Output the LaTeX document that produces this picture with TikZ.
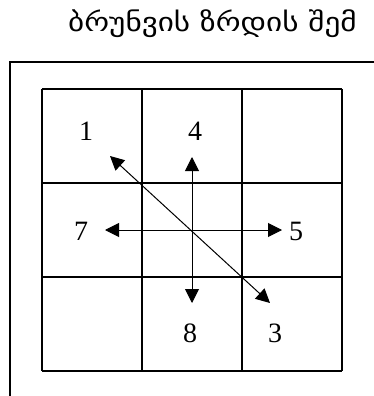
\documentclass[tikz,border=0pt]{standalone}
\usepackage{fontspec}
\setmainfont{Liberation Serif}
\newfontfamily\geofont{DejaVu Sans}
\usetikzlibrary{arrows.meta}

\begin{document}
\begin{tikzpicture}[
  x=1pt, y=-1pt,
  cell/.style={minimum width=100pt, minimum height=94pt, inner sep=0pt},
  grd/.style={line width=2pt},
  num/.style={font=\fontsize{28}{30}\selectfont, inner sep=0pt},
  ar/.style={{Triangle[length=14pt, width=14pt]}-{Triangle[length=14pt, width=14pt]}, line width=1pt},
  frm/.style={line width=1.2pt}]
\useasboundingbox (0,0) rectangle (374,396);
\clip (0,0) rectangle (374,396);
% ---- title, cut at the right edge
\node[anchor=base west, inner sep=0pt, xscale=1.2, font=\geofont\fontsize{26}{28}\selectfont] (title) at (68,32) {ბრუნვის ზრდის შემ};
% ---- outer frame (top and left sides only)
\coordinate (fa) at (10,400);
\coordinate (fb) at (10,62);
\coordinate (fc) at (380,62);
\draw[frm] (fa) -- (fb) -- (fc);
% ---- 3x3 grid of cells
\foreach \r in {1,2,3}
  \foreach \c in {1,2,3}
    \node[cell] (c-\r-\c) at ({42+100*(\c-0.5)},{89+94*(\r-0.5)}) {};
\foreach \r in {1,2,3}{
  \draw[grd] (c-\r-1.north west) -- (c-\r-3.north east);
  \draw[grd] (c-1-\r.north west) -- (c-3-\r.south west);}
\draw[grd] (c-3-1.south west) -- (c-3-3.south east);
\draw[grd] (c-1-3.north east) -- (c-3-3.south east);
% ---- labels
\node[num] (l1) at (86,131) {1};
\node[num] (l4) at (195,131) {4};
\node[num] (l7) at (81,231) {7};
\node[num] (l5) at (296,231) {5};
\node[num] (l8) at (190,333) {8};
\node[num] (l3) at (275,333) {3};
% ---- arrow ends
\coordinate (up) at (192,157);
\coordinate (dn) at (192,303);
\coordinate (lt) at (105,230);
\coordinate (rt) at (282,230);
\coordinate (nw) at (110,156);
\coordinate (se) at (270,303);
\draw[ar] (up) -- (dn);
\draw[ar] (lt) -- (rt);
\draw[ar] (nw) -- (se);
\end{tikzpicture}
\end{document}
